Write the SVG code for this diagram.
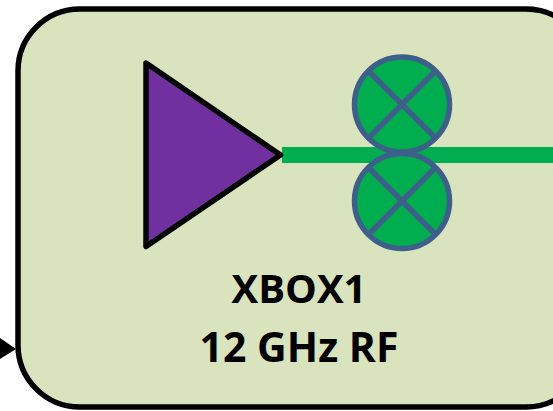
<svg xmlns="http://www.w3.org/2000/svg" width="553" height="411" viewBox="0 0 553 411">
<style>
.lbl{font-family:"Open Sans","Liberation Sans",sans-serif;font-weight:700;font-size:40px;fill:#000;text-anchor:middle}
.mix{fill:#00ae50;stroke:#3e5f8a;stroke-width:5.5}
.x{stroke:#3e5f8a;stroke-width:5.5;fill:none}
</style>
<rect width="553" height="411" fill="#fff"/>
<g id="block"><rect x="18" y="9" width="570" height="398" rx="62" fill="#d9e4bf" stroke="#000" stroke-width="5.5"/>
<text class="lbl" x="299" y="303">XBOX1</text><text class="lbl" x="299" y="362" style="font-size:41px">12 GHz RF</text></g>
<g id="connectors"><polygon points="0,338 16,349 0,359" fill="#000"/><rect x="282" y="147" width="271" height="16" fill="#00ae50"/></g>
<g id="amplifier"><polygon points="146,63 280.500,155 146,246.500" fill="#7030a0" stroke="#000" stroke-width="5.500" stroke-linejoin="round"/></g>
<g id="mixer1"><circle class="mix" cx="402" cy="104.500" r="47.500"/><path class="x" d="M368.500,71L435.500,138M435.500,71L368.500,138"/></g>
<g id="mixer2"><circle class="mix" cx="402" cy="201" r="47.500"/><path class="x" d="M368.500,167.500L435.500,234.500M435.500,167.500L368.500,234.500"/></g>
</svg>
